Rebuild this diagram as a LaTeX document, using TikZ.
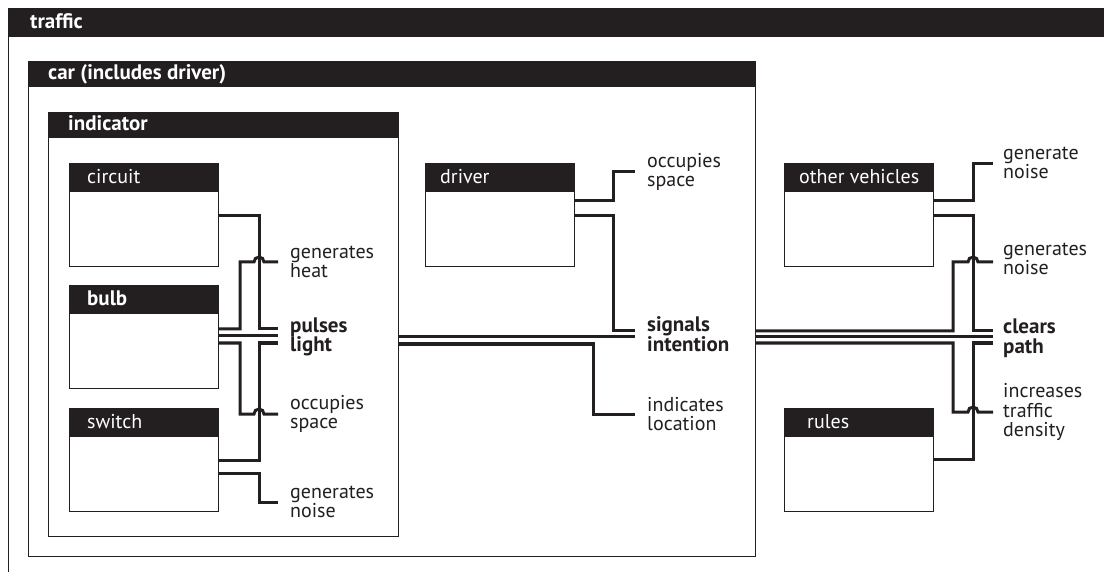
\documentclass[tikz,border=0pt]{standalone}
\usepackage{fontspec}
\setmainfont{PT Sans}
\usetikzlibrary{calc}
\definecolor{ink}{HTML}{231F20}
\newcommand\hvb{\fontsize{21}{19.5}\selectfont\bfseries}
\tikzset{
  frame/.style={draw=ink, line width=1.2pt, fill=white, inner sep=0pt, anchor=north west},
  conn/.style={draw=ink, line width=3pt},
  hdr/.style={fill=ink},
  hdrtxt/.style={text=white, font=\fontsize{20}{20}\selectfont, anchor=base west, inner sep=0pt},
  lbl/.style={text=ink, font=\fontsize{20}{19.5}\selectfont, align=left, anchor=west, inner xsep=12pt, inner ysep=0pt},
  lblr/.style={lbl, inner xsep=10pt},
}
% name, x, y, w, h, header height, text offset, title
\newcommand\umlbox[8]{%
  \node[frame, minimum width=#4pt, minimum height=#5pt] (#1) at (#2,#3) {};
  \fill[hdr] (#1.north west) rectangle ($(#1.north east)+(0,#6)$);
  \node[hdrtxt] (#1-t) at ($(#1.north west)+(#7,#6/2+6)$) {#8};
}
\begin{document}
\begin{tikzpicture}[x=1pt,y=-1pt]
\useasboundingbox (0,0) rectangle (1104,572);
\clip (0,0) rectangle (1104,572);
% containers
\umlbox{traffic}{8}{8}{1120}{600}{29}{22}{\hvb traffic}
\umlbox{car}{28}{61}{727}{495}{26}{20}{\hvb car (includes driver)}
\umlbox{indicator}{48}{112}{350}{424}{26}{20}{\hvb indicator}
% boxes
\umlbox{circuit}{69}{163}{149}{103}{29}{18}{circuit}
\umlbox{bulb}{69}{285}{149}{103}{29}{18}{\hvb bulb}
\umlbox{switch}{69}{408}{149}{103}{29}{18}{switch}
\umlbox{driver}{425}{163}{149}{103}{29}{15}{driver}
\umlbox{other}{784}{163}{149}{103}{29}{15}{other vehicles}
\umlbox{rules}{784}{408}{149}{103}{29}{23}{rules}
% labels
\node[lbl] (heat) at (278,262) {generates\\heat};
\node[lbl] (pulses) at (278,337) {\hvb pulses\\\hvb light};
\node[lbl] (occL) at (278,414) {occupies\\space};
\node[lbl] (noiseL) at (278,502) {generates\\noise};
\node[lbl] (occD) at (635,172) {occupies\\space};
\node[lbl] (signals) at (635,334) {\hvb signals\\\hvb intention};
\node[lbl] (loc) at (635,414) {indicates\\location};
\node[lblr] (gen1) at (993,163) {generate\\noise};
\node[lblr] (noiseR) at (993,259) {generates\\noise};
\node[lblr] (clears) at (993,338) {\hvb clears\\\hvb path};
\node[lblr] (dens) at (993,412) {increases\\traffic\\density};
% connectors: indicator parts
\draw[conn] ($(circuit.north east)+(0,53)$) -| ($(pulses.west)+(-19,-8)$) -- ($(pulses.west)+(0,-8)$);
\draw[conn] ($(bulb.north east)+(0,44)$) -| ($(heat.west)+(-38,0)$) -- ($(heat.west)+(-24,0)$)
  arc[start angle=180, end angle=0, radius=5pt] -- (heat.west);
\draw[conn] ($(bulb.north east)+(0,51)$) -- ($(pulses.west)+(0,-1)$);
\draw[conn] ($(bulb.north east)+(0,58)$) -| ($(occL.west)+(-38,0)$) -- ($(occL.west)+(-24,0)$)
  arc[start angle=180, end angle=0, radius=5pt] -- (occL.west);
\draw[conn] ($(switch.north east)+(0,52)$) -| ($(pulses.west)+(-19,6)$) -- ($(pulses.west)+(0,6)$);
\draw[conn] ($(switch.north east)+(0,65)$) -| ($(noiseL.west)+(-19,0)$) -- (noiseL.west);
% car level
\draw[conn] ($(driver.north east)+(0,38)$) -| ($(occD.west)+(-22,0)$) -- (occD.west);
\draw[conn] ($(driver.north east)+(0,53)$) -| ($(signals.west)+(-22,-3)$) -- ($(signals.west)+(0,-3)$);
\draw[conn] ($(indicator.north east)+(0,225)$) -- ($(signals.west)+(0,3)$);
\draw[conn] ($(indicator.north east)+(0,232)$) -| ($(loc.west)+(-42,0)$) -- (loc.west);
% traffic level
\draw[conn] ($(car.north east)+(0,270)$) -| ($(noiseR.west)+(-40,3)$) -- ($(noiseR.west)+(-25,3)$)
  arc[start angle=180, end angle=0, radius=5pt] -- ($(noiseR.west)+(0,3)$);
\draw[conn] ($(car.north east)+(0,276)$) -- ($(clears.west)+(0,-1)$);
\draw[conn] ($(car.north east)+(0,282)$) -| ($(dens.west)+(-40,0)$) -- ($(dens.west)+(-25,0)$)
  arc[start angle=180, end angle=0, radius=5pt] -- (dens.west);
\draw[conn] ($(other.north east)+(0,38)$) -| ($(gen1.west)+(-20,1)$) -- ($(gen1.west)+(0,1)$);
\draw[conn] ($(other.north east)+(0,53)$) -| ($(clears.west)+(-20,-7)$) -- ($(clears.west)+(0,-7)$);
\draw[conn] ($(rules.north east)+(0,51)$) -| ($(clears.west)+(-20,5)$) -- ($(clears.west)+(0,5)$);
\end{tikzpicture}
\end{document}
